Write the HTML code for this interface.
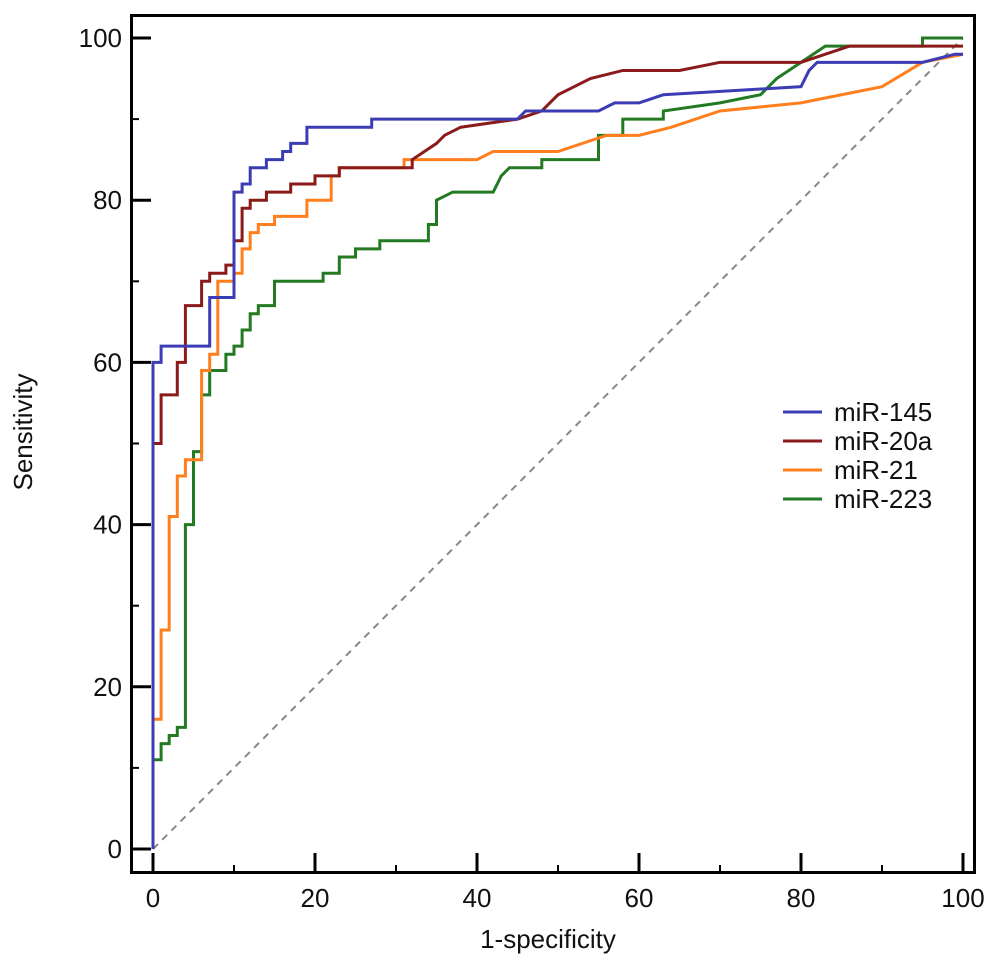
<!DOCTYPE html>
<html><head><meta charset="utf-8"><style>
body{margin:0;background:#fff}
svg text{font-family:"Liberation Sans",Arial,sans-serif;fill:#111}
</style></head><body>
<svg id="c" width="1001" height="972" viewBox="0 0 1001 972">
<rect x="0" y="0" width="1001" height="972" fill="#fff"/>
<g id="ticks"></g>
<line x1="153" y1="849" x2="963" y2="38" stroke="#888" stroke-width="2" stroke-dasharray="7,6"/>
<g id="series"></g>
<rect x="131.5" y="15.5" width="843" height="857" fill="none" stroke="#000" stroke-width="3"/>
<text x="32" y="432" font-size="26" text-anchor="middle" transform="rotate(-90 32 432)">Sensitivity</text>
<text x="548" y="948" font-size="26" text-anchor="middle">1-specificity</text>
<g id="legend"></g>
</svg>
<script>
const categories=["miR-145","miR-20a","miR-21","miR-223"];
const colors=["#3c3cb4","#8b1a1a","#ff7f1e","#237a23"];
const s145=[[0,0],[0,60],[1,60],[1,62],[7,62],[7,68],[10,68],[10,81],[11,81],[11,82],[12,82],[12,84],[14,84],[14,85],[16,85],[16,86],[17,86],[17,87],[19,87],[19,89],[27,89],[27,90],[45,90],[46,91],[55,91],[57,92],[60,92],[63,93],[80,94],[81,96],[82,97],[95,97],[99,98],[100,98]];
const s20a=[[0,0],[0,50],[1,50],[1,56],[3,56],[3,60],[4,60],[4,67],[6,67],[6,70],[7,70],[7,71],[9,71],[9,72],[10,72],[10,75],[11,75],[11,79],[12,79],[12,80],[14,80],[14,81],[17,81],[17,82],[20,82],[20,83],[23,83],[23,84],[32,84],[32,85],[35,87],[36,88],[38,89],[45,90],[48,91],[50,93],[52,94],[54,95],[58,96],[65,96],[70,97],[80,97],[86,99],[100,99]];
const s21=[[0,0],[0,16],[1,16],[1,27],[2,27],[2,41],[3,41],[3,46],[4,46],[4,48],[6,48],[6,59],[7,59],[7,61],[8,61],[8,70],[10,70],[10,71],[11,71],[11,74],[12,74],[12,76],[13,76],[13,77],[15,77],[15,78],[19,78],[19,80],[22,80],[22,83],[23,83],[23,84],[31,84],[31,85],[40,85],[42,86],[50,86],[56,88],[60,88],[64,89],[70,91],[80,92],[85,93],[90,94],[95,97],[100,98]];
const s223=[[0,0],[0,11],[1,11],[1,13],[2,13],[2,14],[3,14],[3,15],[4,15],[4,40],[5,40],[5,49],[6,49],[6,56],[7,56],[7,59],[9,59],[9,61],[10,61],[10,62],[11,62],[11,64],[12,64],[12,66],[13,66],[13,67],[15,67],[15,70],[21,70],[21,71],[23,71],[23,73],[25,73],[25,74],[28,74],[28,75],[34,75],[34,77],[35,77],[35,80],[37,81],[42,81],[43,83],[44,84],[48,84],[48,85],[55,85],[55,88],[58,88],[58,90],[63,90],[63,91],[70,92],[75,93],[77,95],[80,97],[83,99],[95,99],[95,100],[100,100]];
const seriesData=[s145,s20a,s21,s223];
const tickLabels=[0,20,40,60,80,100];
const NS="http://www.w3.org/2000/svg";
const xs=v=>153+8.1*v, ys=v=>849-8.11*v;
const tg=document.getElementById('ticks');
for(let v=0;v<=100;v+=10){
 const major=v%20===0, L=major?20:8;
 let a=document.createElementNS(NS,'line');
 a.setAttribute('x1',xs(v));a.setAttribute('x2',xs(v));a.setAttribute('y1',873);a.setAttribute('y2',873-L);
 a.setAttribute('stroke','#000');a.setAttribute('stroke-width',major?3:2);
 
 
 tg.appendChild(a);
 let b=document.createElementNS(NS,'line');
 b.setAttribute('y1',ys(v));b.setAttribute('y2',ys(v));b.setAttribute('x1',131);b.setAttribute('x2',131+L);
 b.setAttribute('stroke','#000');b.setAttribute('stroke-width',major?3:2);
 
 
 tg.appendChild(b);
}
tickLabels.forEach(v=>{
 let t=document.createElementNS(NS,'text');
 t.setAttribute('x',xs(v));t.setAttribute('y',907);t.setAttribute('font-size','26');t.setAttribute('text-anchor','middle');
 t.textContent=v;
 
 
 tg.appendChild(t);
 let u=document.createElementNS(NS,'text');
 u.setAttribute('x',122);u.setAttribute('y',ys(v)+9);u.setAttribute('font-size','26');u.setAttribute('text-anchor','end');
 u.textContent=v;
 
 
 tg.appendChild(u);
});
const sg=document.getElementById('series');
[3,2,1,0].forEach(i=>{
 const p=document.createElementNS(NS,'polyline');
 p.setAttribute('points',seriesData[i].map(d=>xs(d[0])+','+ys(d[1])).join(' '));
 p.setAttribute('fill','none');p.setAttribute('stroke',colors[i]);p.setAttribute('stroke-width','3');
 
 
 sg.appendChild(p);
});
const lg=document.getElementById('legend');
categories.forEach((c,i)=>{
 const y=412+29*i;
 const l=document.createElementNS(NS,'line');
 l.setAttribute('x1',783);l.setAttribute('x2',822);l.setAttribute('y1',y);l.setAttribute('y2',y);
 l.setAttribute('stroke',colors[i]);l.setAttribute('stroke-width','3');
 
 
 lg.appendChild(l);
 const t=document.createElementNS(NS,'text');
 t.setAttribute('x',834);t.setAttribute('y',y+9);t.setAttribute('font-size','26');
 t.textContent=c;
 
 
 lg.appendChild(t);
});
</script>
</body></html>
